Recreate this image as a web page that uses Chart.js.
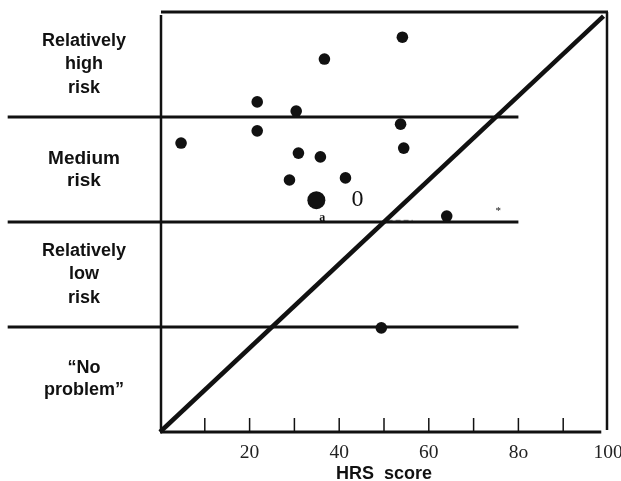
<!DOCTYPE html>
<html>
<head>
<meta charset="utf-8">
<script src="https://cdn.jsdelivr.net/npm/chart.js@4/dist/chart.umd.min.js"></script>
<style>
  html, body { margin: 0; padding: 0; background: #fff; }
  #wrap { width: 621px; height: 481px; }
</style>
</head>
<body>
<div id="wrap"><canvas id="hrsChart"></canvas></div>
<script>
// --- Data ---
const pointX = [54.1, 36.7, 21.7, 30.4, 53.7, 21.7, 4.7, 54.4, 30.9, 35.8, 41.4, 28.9, 64.0, 49.4];
const pointY = [94.0, 88.8, 78.6, 76.4, 73.3, 71.7, 68.8, 67.6, 66.4, 65.5, 60.5, 60.0, 51.4, 24.8];
const bigPointX = [34.9];
const bigPointY = [55.2];

const riskCuts = [25, 50, 75];
const cutStart = -34;
const cutEnd = 80;
const diagonal = [0, 99];
const axisEnd = 98.5;
const dashX = [50.8, 56.4];
const dashY = 50.4;

const minorTicks = [10, 20, 30, 40, 50, 60, 70, 80, 90];
const tickValues = [20, 40, 60, 80, 100];
const tickLabels = ['20', '40', '60', '8o', '100'];

const bandLabels = [
    { y: 87.5, lines: ['Relatively', 'high', 'risk'], size: 18 },
    { y: 62.5, lines: ['Medium', 'risk'], size: 19 },
    { y: 37.5, lines: ['Relatively', 'low', 'risk'], size: 18 },
    { y: 12.5, lines: ['\u201cNo', 'problem\u201d'], size: 18 }
];

const notes = [
    { x: 44.1, y: 55.2, text: '0', font: '24px "Liberation Serif"' },
    { x: 36.2, y: 51.0, text: 'a', font: 'bold 12px "Liberation Serif"' },
    { x: 75.5, y: 52.6, text: '*', font: '11px "Liberation Serif"' }
];

// --- Datasets ---
const ink = '#111';
const datasets = [];

datasets.push({
    type: 'scatter',
    data: pointX.map((x, i) => ({ x: x, y: pointY[i] })),
    backgroundColor: ink,
    borderWidth: 0,
    pointRadius: 5.8,
    pointHoverRadius: 5.8
});
datasets.push({
    type: 'scatter',
    data: bigPointX.map((x, i) => ({ x: x, y: bigPointY[i] })),
    backgroundColor: ink,
    borderWidth: 0,
    pointRadius: 9,
    pointHoverRadius: 9
});
datasets.push({
    type: 'line',
    data: diagonal.map(v => ({ x: v, y: v })),
    borderColor: ink,
    borderWidth: 4.5,
    pointRadius: 0,
    clip: false
});
riskCuts.forEach(c => {
    datasets.push({
        type: 'line',
        data: [{ x: cutStart, y: c }, { x: cutEnd, y: c }],
        borderColor: ink,
        borderWidth: 3,
        pointRadius: 0,
        clip: false
    });
});
datasets.push({
    type: 'line',
    data: dashX.map(x => ({ x: x, y: dashY })),
    borderColor: '#777',
    borderWidth: 1,
    borderDash: [5, 3],
    pointRadius: 0
});

// --- Extra drawing: frame, inward ticks, band labels, notes ---
const decor = {
    id: 'decor',
    afterDatasetsDraw(chart) {
        const ctx = chart.ctx;
        const xs = chart.scales.x;
        const ys = chart.scales.y;
        const a = chart.chartArea;
        ctx.save();
        ctx.strokeStyle = ink;
        ctx.fillStyle = ink;

        // frame
        ctx.lineWidth = 2.5;
        ctx.beginPath();
        ctx.moveTo(a.left + 1, a.top + 3);
        ctx.lineTo(a.left + 1, a.bottom);
        ctx.stroke();
        ctx.lineWidth = 3;
        ctx.beginPath();
        ctx.moveTo(a.left + 1, a.top);
        ctx.lineTo(a.right, a.top);
        ctx.stroke();
        ctx.lineWidth = 2.5;
        ctx.beginPath();
        ctx.moveTo(a.right - 1, a.top);
        ctx.lineTo(a.right - 1, a.bottom - 2);
        ctx.stroke();

        // bottom axis
        ctx.lineWidth = 3;
        ctx.beginPath();
        ctx.moveTo(a.left, a.bottom);
        ctx.lineTo(xs.getPixelForValue(axisEnd), a.bottom);
        ctx.stroke();

        // inward tick marks
        ctx.lineWidth = 1.5;
        minorTicks.forEach(t => {
            const px = xs.getPixelForValue(t);
            ctx.beginPath();
            ctx.moveTo(px, a.bottom);
            ctx.lineTo(px, a.bottom - 14);
            ctx.stroke();
        });

        // band labels on the left
        ctx.textAlign = 'center';
        ctx.textBaseline = 'middle';
        bandLabels.forEach(b => {
            ctx.font = 'bold ' + b.size + 'px "Liberation Sans"';
            const cy = ys.getPixelForValue(b.y);
            const lh = b.lines.length > 2 ? 23.5 : 22;
            const y0 = cy - (b.lines.length - 1) * lh / 2;
            b.lines.forEach((ln, i) => ctx.fillText(ln, 84, y0 + i * lh));
        });

        // notes
        notes.forEach(n => {
            ctx.font = n.font;
            ctx.fillText(n.text, xs.getPixelForValue(n.x), ys.getPixelForValue(n.y));
        });
        ctx.restore();
    }
};

new Chart(document.getElementById('hrsChart').getContext('2d'), {
    data: { datasets: datasets },
    options: {
        responsive: true,
        maintainAspectRatio: false,
        animation: false,
        layout: { padding: { left: 160, right: 13, top: 12, bottom: 0 } },
        plugins: { legend: { display: false }, tooltip: { enabled: false } },
        scales: {
            x: {
                type: 'linear',
                min: 0,
                max: 100,
                afterBuildTicks: s => { s.ticks = tickValues.map(v => ({ value: v })); },
                afterFit: s => { s.height = 49; s.paddingLeft = 0; s.paddingRight = 0; },
                grid: { display: false, drawTicks: false },
                border: { display: false },
                ticks: {
                    color: '#222',
                    padding: 9,
                    maxRotation: 0,
                    font: { family: 'Liberation Serif', size: 19.5 },
                    callback: v => tickLabels[tickValues.indexOf(v)]
                },
                title: {
                    display: true,
                    text: 'HRS  score',
                    color: ink,
                    padding: { top: 0, bottom: 0 },
                    font: { family: 'Liberation Sans', size: 18, weight: 'bold', lineHeight: 0.8 }
                }
            },
            y: {
                type: 'linear',
                min: 0,
                max: 100,
                display: false
            }
        }
    },
    plugins: [decor]
});
</script>
</body>
</html>
